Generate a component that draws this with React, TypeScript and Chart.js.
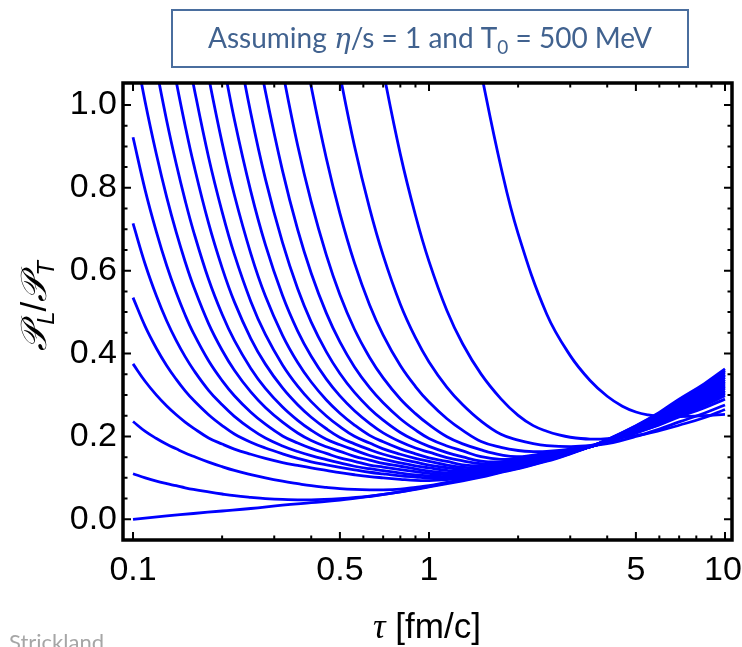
import React, { useEffect, useRef } from "react";
import { Chart, registerables } from "chart.js";

Chart.register(...registerables);

// ---- Data (tau in fm/c, P_L/P_T) ----
const curveG: [number, number][] = [[0.1,0],[0.13,0.008],[0.16,0.014],[0.2,0.02],[0.25,0.026],[0.32,0.034],[0.4,0.04],[0.5,0.046],[0.63,0.055],[0.8,0.066],[1,0.078],[1.3,0.093],[1.5,0.102],[1.75,0.113],[2,0.122],[2.5,0.14],[3,0.158],[3.5,0.175],[4,0.192],[5,0.226],[6,0.258],[7,0.29],[8.5,0.327],[10,0.363]];
const curveF: [number, number][] = [[0.1,0.11],[0.11,0.1],[0.12,0.092],[0.13,0.086],[0.14,0.081],[0.15,0.076],[0.16,0.072],[0.18,0.066],[0.2,0.061],[0.22,0.057],[0.25,0.053],[0.28,0.05],[0.32,0.048],[0.4,0.047],[0.5,0.05],[0.63,0.056],[0.8,0.066],[1,0.0795],[1.3,0.0945],[1.5,0.1035],[1.75,0.1145],[2,0.1235],[2.5,0.1415],[3,0.1588],[3.5,0.175],[4,0.192],[5,0.225],[6,0.256],[7,0.287],[8.5,0.324],[10,0.359]];
const curveE: [number, number][] = [[0.1,0.236],[0.11,0.212],[0.12,0.195],[0.13,0.181],[0.14,0.17],[0.15,0.16],[0.16,0.152],[0.18,0.138],[0.2,0.127],[0.22,0.118],[0.25,0.108],[0.28,0.1],[0.32,0.092],[0.36,0.086],[0.4,0.081],[0.45,0.077],[0.5,0.074],[0.56,0.072],[0.63,0.071],[0.7,0.071],[0.8,0.073],[0.9,0.077],[1,0.081],[1.15,0.089],[1.3,0.096],[1.5,0.105],[1.75,0.116],[2,0.125],[2.5,0.143],[3,0.1596],[3.5,0.175],[4,0.191],[5,0.224],[6,0.254],[7,0.285],[8.5,0.321],[10,0.355]];
const curveD: [number, number][] = [[0.1,0.375],[0.11,0.3325],[0.12,0.2997],[0.13,0.2735],[0.14,0.2522],[0.15,0.2346],[0.16,0.2202],[0.18,0.1964],[0.2,0.1815],[0.22,0.1695],[0.25,0.157],[0.28,0.147],[0.32,0.137],[0.36,0.13],[0.4,0.124],[0.45,0.118],[0.5,0.1125],[0.56,0.1075],[0.63,0.103],[0.7,0.1],[0.8,0.0965],[0.9,0.0938],[1,0.0932],[1.15,0.0955],[1.3,0.1],[1.5,0.1085],[1.75,0.119],[2,0.128],[2.5,0.146],[3,0.161],[3.5,0.175],[4,0.191],[5,0.222],[6,0.252],[7,0.282],[8.5,0.317],[10,0.35]];
const curveC: [number, number][] = [[0.1,0.535],[0.11,0.465],[0.12,0.4123],[0.13,0.3707],[0.14,0.3377],[0.15,0.31],[0.16,0.2877],[0.18,0.2524],[0.2,0.2263],[0.22,0.206],[0.25,0.186],[0.28,0.172],[0.32,0.158],[0.36,0.147],[0.4,0.1385],[0.45,0.1315],[0.5,0.1255],[0.56,0.1195],[0.63,0.1135],[0.7,0.1095],[0.8,0.105],[0.9,0.102],[1,0.0995],[1.15,0.1],[1.3,0.1034],[1.5,0.1107],[1.75,0.121],[2,0.1295],[2.5,0.147],[3,0.1615],[3.5,0.175],[4,0.19],[5,0.221],[6,0.25],[7,0.279],[8.5,0.314],[10,0.346]];
const curveB: [number, number][] = [[0.1,0.714],[0.11,0.6149],[0.12,0.5388],[0.13,0.4785],[0.14,0.4311],[0.15,0.3925],[0.16,0.3609],[0.18,0.3114],[0.2,0.2762],[0.22,0.2485],[0.25,0.2181],[0.28,0.196],[0.32,0.177],[0.36,0.1635],[0.4,0.1535],[0.45,0.144],[0.5,0.136],[0.56,0.128],[0.63,0.122],[0.7,0.1175],[0.8,0.1115],[0.9,0.107],[1,0.1045],[1.15,0.103],[1.3,0.1053],[1.5,0.1123],[1.75,0.1225],[2,0.131],[2.5,0.148],[3,0.162],[3.5,0.175],[4,0.19],[5,0.22],[6,0.248],[7,0.277],[8.5,0.31],[10,0.342]];
const curveA: [number, number][] = [[0.1,0.922],[0.11,0.7934],[0.12,0.6931],[0.13,0.6119],[0.14,0.5465],[0.15,0.493],[0.16,0.4494],[0.18,0.3826],[0.2,0.3347],[0.22,0.2982],[0.25,0.2584],[0.28,0.2294],[0.32,0.2012],[0.36,0.184],[0.4,0.171],[0.45,0.159],[0.5,0.148],[0.56,0.14],[0.63,0.131],[0.7,0.126],[0.8,0.12],[0.9,0.115],[1,0.111],[1.15,0.1075],[1.3,0.1085],[1.5,0.114],[1.75,0.124],[2,0.1325],[2.5,0.149],[3,0.1625],[3.5,0.175],[4,0.19],[5,0.219],[6,0.246],[7,0.274],[8.5,0.306],[10,0.337]];
const curveT1: [number, number][] = [[0.1,1.161],[0.11,1.006],[0.12,0.8803],[0.13,0.7769],[0.14,0.6922],[0.15,0.6217],[0.16,0.563],[0.18,0.4723],[0.2,0.408],[0.22,0.3598],[0.25,0.3073],[0.28,0.2698],[0.32,0.2343],[0.36,0.2083],[0.4,0.19],[0.45,0.175],[0.5,0.164],[0.56,0.152],[0.63,0.143],[0.7,0.135],[0.8,0.128],[0.9,0.1215],[1,0.1165],[1.15,0.112],[1.3,0.1113],[1.5,0.116],[1.75,0.1255],[2,0.134],[2.5,0.15],[3,0.163],[3.5,0.175],[4,0.189],[5,0.218],[6,0.245],[7,0.271],[8.5,0.303],[10,0.333]];
const curveT2: [number, number][] = [[0.11,1.229],[0.12,1.087],[0.13,0.9615],[0.14,0.8574],[0.15,0.7696],[0.16,0.6957],[0.18,0.5792],[0.2,0.4947],[0.22,0.4316],[0.25,0.3641],[0.28,0.316],[0.32,0.271],[0.36,0.2388],[0.4,0.2148],[0.45,0.193],[0.5,0.18],[0.56,0.167],[0.63,0.154],[0.7,0.145],[0.8,0.136],[0.9,0.129],[1,0.124],[1.15,0.118],[1.3,0.1155],[1.5,0.118],[1.75,0.1265],[2,0.1355],[2.5,0.151],[3,0.1635],[3.5,0.175],[4,0.189],[5,0.217],[6,0.243],[7,0.269],[8.5,0.3],[10,0.329]];
const curveT3: [number, number][] = [[0.13,1.178],[0.14,1.056],[0.15,0.95],[0.16,0.8595],[0.18,0.7146],[0.2,0.6068],[0.22,0.5247],[0.25,0.4363],[0.28,0.3745],[0.32,0.317],[0.36,0.2764],[0.4,0.2462],[0.45,0.2185],[0.5,0.1976],[0.56,0.182],[0.63,0.168],[0.7,0.157],[0.8,0.146],[0.9,0.138],[1,0.1305],[1.15,0.1245],[1.3,0.1205],[1.5,0.121],[1.75,0.129],[2,0.137],[2.5,0.152],[3,0.164],[3.5,0.175],[4,0.188],[5,0.215],[6,0.241],[7,0.266],[8.5,0.296],[10,0.324]];
const curveT4: [number, number][] = [[0.14,1.27],[0.15,1.155],[0.16,1.049],[0.18,0.8739],[0.2,0.742],[0.22,0.6392],[0.25,0.5259],[0.28,0.446],[0.32,0.3726],[0.36,0.3213],[0.4,0.284],[0.45,0.2494],[0.5,0.2235],[0.56,0.2003],[0.63,0.184],[0.7,0.17],[0.8,0.157],[0.9,0.147],[1,0.14],[1.15,0.131],[1.3,0.1255],[1.5,0.124],[1.75,0.131],[2,0.1385],[2.5,0.153],[3,0.1645],[3.5,0.175],[4,0.188],[5,0.214],[6,0.239],[7,0.263],[8.5,0.292],[10,0.32]];
const curveT5: [number, number][] = [[0.16,1.262],[0.18,1.068],[0.2,0.9086],[0.22,0.7827],[0.25,0.6414],[0.28,0.5388],[0.32,0.4441],[0.36,0.3784],[0.4,0.3313],[0.45,0.2879],[0.5,0.2561],[0.56,0.2274],[0.63,0.2025],[0.7,0.187],[0.8,0.17],[0.9,0.158],[1,0.148],[1.15,0.1395],[1.3,0.1315],[1.5,0.129],[1.75,0.133],[2,0.14],[2.5,0.1545],[3,0.165],[3.5,0.175],[4,0.188],[5,0.213],[6,0.237],[7,0.261],[8.5,0.289],[10,0.316]];
const curveT6: [number, number][] = [[0.18,1.289],[0.2,1.117],[0.22,0.9649],[0.25,0.7915],[0.28,0.6629],[0.32,0.54],[0.36,0.4542],[0.4,0.3934],[0.45,0.3383],[0.5,0.2977],[0.56,0.2619],[0.63,0.2315],[0.7,0.2086],[0.8,0.187],[0.9,0.172],[1,0.162],[1.15,0.149],[1.3,0.141],[1.5,0.134],[1.75,0.135],[2,0.1425],[2.5,0.155],[3,0.1655],[3.5,0.1755],[4,0.187],[5,0.212],[6,0.235],[7,0.258],[8.5,0.285],[10,0.311]];
const curveT7: [number, number][] = [[0.2,1.343],[0.22,1.186],[0.25,0.9799],[0.28,0.8216],[0.32,0.6677],[0.36,0.5564],[0.4,0.476],[0.45,0.4042],[0.5,0.352],[0.56,0.3062],[0.63,0.2676],[0.7,0.2393],[0.8,0.2094],[0.9,0.19],[1,0.176],[1.15,0.161],[1.3,0.1505],[1.5,0.1405],[1.75,0.1387],[2,0.1443],[2.5,0.1565],[3,0.166],[3.5,0.1755],[4,0.187],[5,0.211],[6,0.233],[7,0.256],[8.5,0.282],[10,0.307]];
const curveT8: [number, number][] = [[0.25,1.219],[0.28,1.033],[0.32,0.841],[0.36,0.6991],[0.4,0.594],[0.45,0.4975],[0.5,0.428],[0.56,0.3677],[0.63,0.3176],[0.7,0.2811],[0.8,0.2427],[0.9,0.2156],[1,0.1951],[1.15,0.177],[1.3,0.165],[1.5,0.151],[1.75,0.1445],[2,0.1466],[2.5,0.158],[3,0.1665],[3.5,0.1755],[4,0.187],[5,0.21],[6,0.231],[7,0.253],[8.5,0.279],[10,0.303]];
const curveT9: [number, number][] = [[0.28,1.301],[0.32,1.082],[0.36,0.902],[0.4,0.7659],[0.45,0.6376],[0.5,0.5419],[0.56,0.4587],[0.63,0.3905],[0.7,0.3413],[0.8,0.2904],[0.9,0.255],[1,0.2283],[1.15,0.1992],[1.3,0.182],[1.5,0.1675],[1.75,0.1555],[2,0.151],[2.5,0.16],[3,0.168],[3.5,0.1765],[4,0.186],[5,0.208],[6,0.229],[7,0.25],[8.5,0.275],[10,0.298]];
const curveT10: [number, number][] = [[0.36,1.216],[0.4,1.044],[0.45,0.8708],[0.5,0.7383],[0.56,0.6187],[0.63,0.5173],[0.7,0.4445],[0.8,0.371],[0.9,0.3204],[1,0.283],[1.15,0.2427],[1.3,0.2146],[1.5,0.1879],[1.75,0.1735],[2,0.166],[2.25,0.1635],[2.5,0.164],[3,0.1695],[3.5,0.178],[4,0.189],[5,0.21],[6,0.228],[7,0.247],[8.5,0.269],[10,0.29]];
const curveT11: [number, number][] = [[0.45,1.247],[0.5,1.073],[0.56,0.901],[0.63,0.7503],[0.7,0.6369],[0.8,0.5192],[0.9,0.4383],[1,0.3799],[1.15,0.3185],[1.3,0.2764],[1.5,0.2369],[1.75,0.205],[2,0.191],[2.25,0.1825],[2.5,0.178],[3,0.1755],[3.5,0.1775],[4,0.1825],[5,0.2],[6,0.218],[7,0.235],[8.5,0.256],[10,0.276]];
const curveT12: [number, number][] = [[0.63,1.256],[0.7,1.083],[0.8,0.8814],[0.9,0.7338],[1,0.6225],[1.15,0.5032],[1.3,0.423],[1.5,0.3503],[1.75,0.2906],[2,0.2507],[2.25,0.226],[2.5,0.2125],[2.75,0.2035],[3,0.198],[3.5,0.1935],[4,0.1945],[5,0.202],[6,0.214],[7,0.227],[8.5,0.245],[10,0.265]];
const curveT13: [number, number][] = [[1.4,1.191],[1.5,1.078],[1.75,0.8502],[2,0.6896],[2.5,0.495],[3,0.395],[3.5,0.335],[4,0.297],[4.5,0.273],[5,0.259],[5.5,0.252],[6,0.249],[7,0.248],[8.5,0.25],[10,0.253]];

const allCurves = [curveG, curveF, curveE, curveD, curveC, curveB, curveA, curveT1, curveT2, curveT3, curveT4, curveT5, curveT6, curveT7, curveT8, curveT9, curveT10, curveT11, curveT12, curveT13];

const xMajorTicks = [0.1, 0.5, 1, 5, 10];
const xMajorLabels = ["0.1", "0.5", "1", "5", "10"];
const xMinorTicks = [0.2, 0.3, 0.4, 0.6, 0.7, 0.8, 0.9, 2, 3, 4, 6, 7, 8, 9];
const yMajorTicks = [0, 0.2, 0.4, 0.6, 0.8, 1.0];
const yMajorLabels = ["0.0", "0.2", "0.4", "0.6", "0.8", "1.0"];
const yMinorTicks = [0.05, 0.1, 0.15, 0.25, 0.3, 0.35, 0.45, 0.5, 0.55, 0.65, 0.7, 0.75, 0.85, 0.9, 0.95];

const decorPlugin = {
  id: "decor",
  afterDraw(chart: any) {
    const ctx: CanvasRenderingContext2D = chart.ctx;
    const { left, right, top, bottom } = chart.chartArea;
    const xs = chart.scales.x;
    const ys = chart.scales.y;
    ctx.save();
    ctx.strokeStyle = "#000";
    ctx.lineWidth = 3.5;
    ctx.strokeRect(left, top, right - left, bottom - top);
    ctx.lineWidth = 2;
    ctx.beginPath();
    const xt = (v: number, len: number) => {
      const p = xs.getPixelForValue(v);
      ctx.moveTo(p, bottom); ctx.lineTo(p, bottom - len);
      ctx.moveTo(p, top); ctx.lineTo(p, top + len);
    };
    const yt = (v: number, len: number) => {
      const p = ys.getPixelForValue(v);
      ctx.moveTo(left, p); ctx.lineTo(left + len, p);
      ctx.moveTo(right, p); ctx.lineTo(right - len, p);
    };
    xMajorTicks.forEach((v) => xt(v, 8));
    xMinorTicks.forEach((v) => xt(v, 4.5));
    yMajorTicks.forEach((v) => yt(v, 8));
    yMinorTicks.forEach((v) => yt(v, 4.5));
    ctx.stroke();

    ctx.fillStyle = "#000";
    ctx.font = '34px "Liberation Sans", Arial, sans-serif';
    ctx.textAlign = "center";
    ctx.textBaseline = "middle";
    xMajorTicks.forEach((v, i) => {
      ctx.fillText(xMajorLabels[i], xs.getPixelForValue(v) - (i === 4 ? 2 : 0), 571);
    });
    ctx.textAlign = "right";
    yMajorTicks.forEach((v, i) => {
      ctx.fillText(yMajorLabels[i], 117, ys.getPixelForValue(v));
    });

    ctx.textBaseline = "alphabetic";
    ctx.textAlign = "left";
    const f1 = 'italic 35px "Liberation Serif", serif';
    const f2 = '35px "Liberation Sans", Arial, sans-serif';
    ctx.font = f1;
    const w1 = ctx.measureText("τ").width;
    ctx.font = f2;
    const w2 = ctx.measureText(" [fm/c]").width;
    const x0 = 427 - (w1 + w2) / 2;
    ctx.font = f1;
    ctx.fillText("τ", x0, 638);
    ctx.font = f2;
    ctx.fillText(" [fm/c]", x0 + w1, 638);

    ctx.save();
    ctx.translate(46, 306);
    ctx.rotate(-Math.PI / 2);
    const pf = 'italic 36px "DejaVu Serif", serif';
    const sf = 'italic 24px "Liberation Sans", Arial, sans-serif';
    const nf = '35px "Liberation Sans", Arial, sans-serif';
    const parts: [string, string, number][] = [
      ["𝒫", pf, 0], ["L", sf, 8], ["/", nf, 0], ["𝒫", pf, 0], ["T", sf, 8],
    ];
    let tw = 0;
    parts.forEach(([t, f]) => { ctx.font = f; tw += ctx.measureText(t).width; });
    let cx = -tw / 2;
    parts.forEach(([t, f, dy]) => {
      ctx.font = f;
      ctx.fillText(t, cx, dy);
      cx += ctx.measureText(t).width;
    });
    ctx.restore();

    ctx.strokeStyle = "#4A6E9E";
    ctx.lineWidth = 2;
    ctx.strokeRect(172, 10, 516, 57);
    ctx.fillStyle = "#41628F";
    const tf = '28px Lato, "Open Sans", sans-serif';
    const tfi = 'italic 28px "DejaVu Serif", serif';
    const tfs = '19px Lato, "Open Sans", sans-serif';
    const tparts: [string, string, number][] = [
      ["Assuming ", tf, 0], ["η", tfi, 0], ["/s = 1 and T", tf, 0], ["0", tfs, 6], [" = 500 MeV", tf, 0],
    ];
    let ttw = 0;
    tparts.forEach(([t, f]) => { ctx.font = f; ttw += ctx.measureText(t).width; });
    let tx = 430 - ttw / 2;
    tparts.forEach(([t, f, dy]) => {
      ctx.font = f;
      ctx.fillText(t, tx, 48 + dy);
      tx += ctx.measureText(t).width;
    });

    ctx.fillStyle = "#A6A6A6";
    ctx.font = '22px Lato, "Open Sans", sans-serif';
    ctx.fillText("Strickland", 9, 650);
    ctx.restore();
  },
};

export default function App() {
  const ref = useRef<HTMLCanvasElement>(null);
  useEffect(() => {
    if (!ref.current) return;
    const chart = new Chart(ref.current, {
      type: "line",
      data: {
        datasets: allCurves.map((c) => ({
          data: c.map(([t, v]) => ({ x: t, y: v })),
          borderColor: "#0000ff",
          borderWidth: 2.8,
          pointRadius: 0,
          fill: false,
          tension: 0.4,
          clip: 0,
        })),
      },
      options: {
        responsive: false,
        animation: false,
        events: [],
        layout: { padding: { left: 123, right: 10, top: 83, bottom: 107 } },
        plugins: { legend: { display: false }, tooltip: { enabled: false } },
        scales: {
          x: { type: "logarithmic", min: 0.0925, max: 10.56, display: false },
          y: { type: "linear", min: -0.05, max: 1.053, display: false },
        },
      },
      plugins: [decorPlugin],
    });
    return () => chart.destroy();
  }, []);
  return (
    <div style={{ position: "absolute", left: 0, top: 0, width: 742, height: 647, background: "#fff" }}>
      <canvas ref={ref} width={742} height={647} style={{ display: "block" }} />
    </div>
  );
}
